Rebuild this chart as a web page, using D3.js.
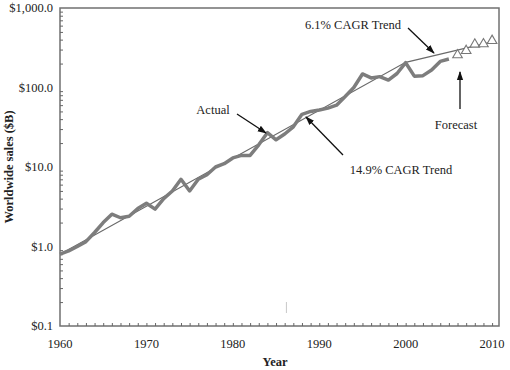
<!DOCTYPE html>
<html>
<head>
<meta charset="utf-8">
<script src="https://cdn.jsdelivr.net/npm/d3@7"></script>
<style>
  body { margin: 0; background: #fff; }
  text { font-family: "Liberation Serif", "DejaVu Serif", serif; fill: #222; }
</style>
</head>
<body>
<svg id="chart"></svg>
<script>
// Data
const YEARS = [1960, 1961, 1962, 1963, 1964, 1965, 1966, 1967, 1968, 1969,
  1970, 1971, 1972, 1973, 1974, 1975, 1976, 1977, 1978, 1979,
  1980, 1981, 1982, 1983, 1984, 1985, 1986, 1987, 1988, 1989,
  1990, 1991, 1992, 1993, 1994, 1995, 1996, 1997, 1998, 1999,
  2000, 2001, 2002, 2003, 2004, 2005];
const ACTUAL = [0.8, 0.88, 1.0, 1.15, 1.5, 2.0, 2.55, 2.3, 2.4, 3.0,
  3.5, 2.95, 4.0, 5.0, 7.0, 5.0, 7.0, 8.0, 10.0, 11.0,
  13.0, 14.0, 14.0, 19.0, 27.0, 22.0, 26.0, 32.0, 46.0, 50.0,
  52.0, 55.0, 60.0, 77.0, 100.0, 148.0, 132.0, 137.0, 124.0, 150.0,
  205.0, 139.0, 141.0, 166.0, 213.0, 228.0];
const FORECAST_YEARS = [2006, 2007, 2008, 2009, 2010];
const FORECAST = [256, 290, 349, 352, 388];
const TREND_YEARS = [1960, 2000, 2010];
const TREND = [0.8, 207, 375];
const Y_TICKS = [0.1, 1, 10, 100, 1000];
const X_TICKS = [1960, 1970, 1980, 1990, 2000, 2010];

// SVG constants
const WIDTH = 510;
const HEIGHT = 370;
const LEFT = 60, RIGHT = 499, TOP = 8, BOTTOM = 326;

const svg = d3.select("#chart")
  .attr("width", WIDTH)
  .attr("height", HEIGHT);

// Scales
const x = d3.scaleLinear().domain([1960, 2010.8]).range([LEFT, RIGHT]);
const y = d3.scaleLog().domain([0.1, 1000]).range([BOTTOM, TOP]);

// Arrow marker
svg.append("defs").append("marker")
  .attr("id", "arrow")
  .attr("viewBox", "0 0 10 10")
  .attr("refX", 9).attr("refY", 5)
  .attr("markerWidth", 7).attr("markerHeight", 7)
  .attr("orient", "auto")
  .append("path")
  .attr("d", "M0,1.5 L10,5 L0,8.5 Z")
  .attr("fill", "#111");

// Frame
svg.append("rect")
  .attr("x", LEFT).attr("y", TOP)
  .attr("width", RIGHT - LEFT).attr("height", BOTTOM - TOP)
  .attr("fill", "none")
  .attr("stroke", "#707070")
  .attr("stroke-width", 1.5);

// Y axis with minor ticks
const yMinor = [];
for (let d = 0.1; d < 1000; d *= 10) {
  for (let k = 2; k <= 9; k++) yMinor.push(d * k);
}
const yAxis = svg.append("g")
  .attr("transform", `translate(${LEFT},0)`)
  .call(d3.axisRight(y).tickValues(yMinor).tickSize(3).tickFormat(""));
yAxis.select(".domain").remove();
yAxis.selectAll("line").attr("stroke", "#666");

svg.selectAll(".ylabel")
  .data(Y_TICKS)
  .enter()
  .append("text")
  .attr("class", "ylabel")
  .attr("x", 53)
  .attr("y", d => y(d) + 4)
  .attr("text-anchor", "end")
  .attr("font-size", 12.5)
  .text(d => "$" + d3.format(",.1f")(d));

// X axis with year ticks
const xAxis = svg.append("g")
  .attr("transform", `translate(0,${BOTTOM})`)
  .call(d3.axisTop(x).tickValues(d3.range(1961, 2011)).tickSize(3).tickFormat(""));
xAxis.select(".domain").remove();
xAxis.selectAll("line").attr("stroke", "#666");

svg.selectAll(".xlabel")
  .data(X_TICKS)
  .enter()
  .append("text")
  .attr("class", "xlabel")
  .attr("x", d => x(d))
  .attr("y", 348)
  .attr("text-anchor", "middle")
  .attr("font-size", 12.5)
  .text(d => d);

// small stray mark
svg.append("line")
  .attr("x1", x(1986.2)).attr("x2", x(1986.2))
  .attr("y1", 302).attr("y2", 313)
  .attr("stroke", "#c8c8c8").attr("stroke-width", 1);

// Axis titles
svg.append("text")
  .attr("transform", `translate(13,${(TOP + BOTTOM) / 2}) rotate(-90)`)
  .attr("text-anchor", "middle")
  .attr("font-size", 12.5)
  .attr("font-weight", "bold")
  .text("Worldwide sales ($B)");

svg.append("text")
  .attr("x", 275).attr("y", 366)
  .attr("text-anchor", "middle")
  .attr("font-size", 12.5)
  .attr("font-weight", "bold")
  .text("Year");

// Trend line
const trendLine = d3.line().x(d => x(d[0])).y(d => y(d[1]));
svg.append("path")
  .datum(d3.zip(TREND_YEARS, TREND))
  .attr("d", trendLine)
  .attr("fill", "none")
  .attr("stroke", "#6a6a6a")
  .attr("stroke-width", 1.1);

// Actual line
svg.append("path")
  .datum(d3.zip(YEARS, ACTUAL))
  .attr("d", trendLine)
  .attr("fill", "none")
  .attr("stroke", "#7d7d7d")
  .attr("stroke-width", 3.5)
  .attr("stroke-linejoin", "round");

// Forecast triangles
const tri = d3.symbol().type(d3.symbolTriangle).size(40);
svg.selectAll(".forecast")
  .data(d3.zip(FORECAST_YEARS, FORECAST))
  .enter()
  .append("path")
  .attr("class", "forecast")
  .attr("transform", d => `translate(${x(d[0])},${y(d[1])})`)
  .attr("d", tri)
  .attr("fill", "#fff")
  .attr("stroke", "#777")
  .attr("stroke-width", 1.1);

// Annotations
const notes = [
  { text: "6.1% CAGR Trend", tx: 353, ty: 29, x1: 408, y1: 28, x2: 434, y2: 53 },
  { text: "Actual", tx: 213, ty: 114, x1: 237, y1: 114, x2: 266, y2: 133 },
  { text: "14.9% CAGR Trend", tx: 401, ty: 174, x1: 343, y1: 155, x2: 306, y2: 117 },
  { text: "Forecast", tx: 456, ty: 129, x1: 460, y1: 109, x2: 460, y2: 72 }
];
svg.selectAll(".note")
  .data(notes)
  .enter()
  .append("text")
  .attr("class", "note")
  .attr("x", d => d.tx).attr("y", d => d.ty)
  .attr("text-anchor", "middle")
  .attr("font-size", 12.5)
  .text(d => d.text);

svg.selectAll(".arrow")
  .data(notes)
  .enter()
  .append("line")
  .attr("class", "arrow")
  .attr("x1", d => d.x1).attr("y1", d => d.y1)
  .attr("x2", d => d.x2).attr("y2", d => d.y2)
  .attr("stroke", "#111")
  .attr("stroke-width", 1.3)
  .attr("marker-end", "url(#arrow)");
</script>
</body>
</html>
